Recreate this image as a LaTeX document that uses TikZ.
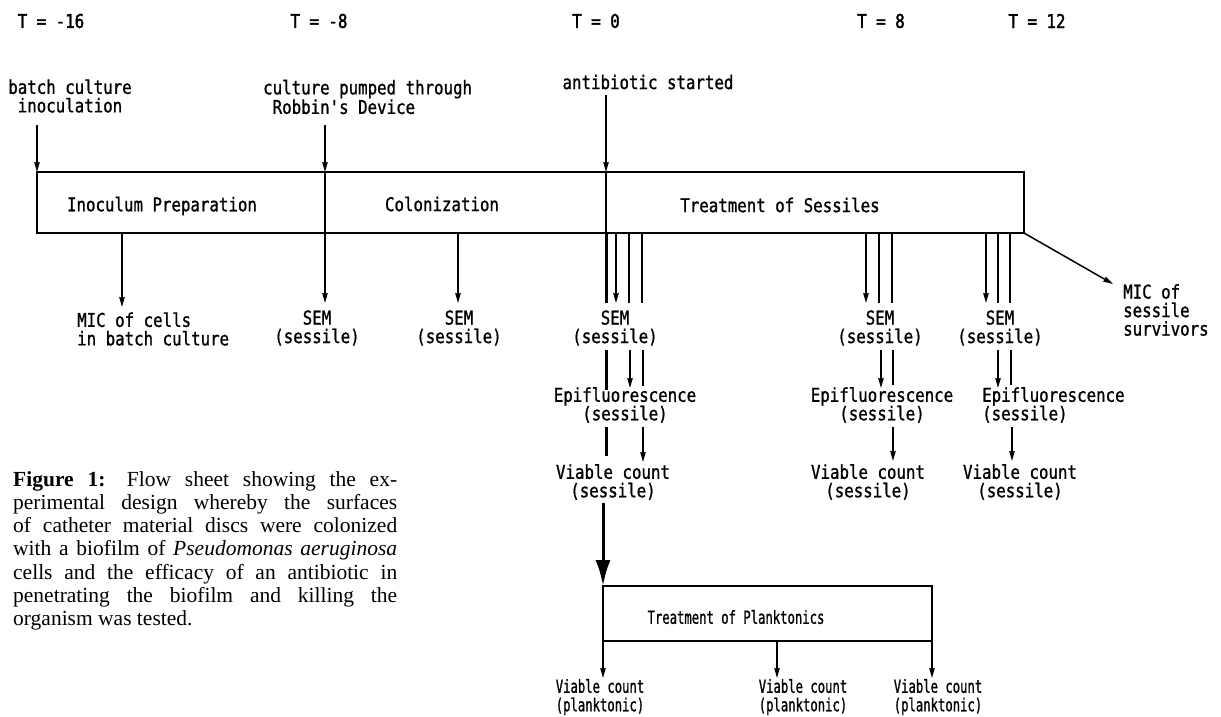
\documentclass[tikz,border=0pt]{standalone}
\usepackage{fontspec}
\setmainfont{Liberation Serif}
\newfontfamily\mono[FakeStretch=0.83,FakeBold=1]{DejaVu Sans Mono}
\newfontfamily\monoT[FakeStretch=0.83,FakeBold=2]{DejaVu Sans Mono}
\newfontfamily\monoS[FakeStretch=0.68,FakeBold=1]{DejaVu Sans Mono}
\usetikzlibrary{arrows.meta}
\begin{document}
\begin{tikzpicture}[x=1pt,y=-1pt,
  lab/.style={font=\mono\fontsize{19}{18.5}\selectfont, inner sep=0pt, align=center},
  labt/.style={font=\monoT\fontsize{19}{18.5}\selectfont, inner sep=0pt},
  labs/.style={font=\monoS\fontsize{18}{18.5}\selectfont, inner sep=0pt, align=center},
  ln/.style={line width=1.5pt},
  arr/.style={ln, -{Stealth[length=10pt,width=5.5pt,inset=1pt]}},
  thk/.style={line width=3pt},
  bigarr/.style={thk, -{Latex[length=26pt,width=15pt]}},
  box/.style={draw, line width=1.6pt, inner sep=0pt, outer sep=0pt}]
\useasboundingbox (0,0) rectangle (1221,717);

% time labels
\node[labt] (tm16) at (51,21) {T = -16};
\node[labt] (tm8) at (319,21) {T = -8};
\node[labt] (t0) at (596,21) {T = 0};
\node[labt] (t8) at (881,21) {T = 8};
\node[labt] (t12) at (1037,21) {T = 12};

% event labels
\node[lab] (batch) at (70,96) {batch culture\\inoculation};
\node[lab, align=left, anchor=west] (robbin) at (263,97) {culture pumped through\\\hphantom{x}Robbin's Device};
\node[lab] (antib) at (648,82) {antibiotic started};

% main box
\node[box, anchor=north west, minimum width=987pt, minimum height=61pt] (main) at (37,172) {};
\node[lab] (inoc) at (162,206) {Inoculum Preparation};
\node[lab] (colon) at (442,204) {Colonization};
\node[lab] (treat) at (780,205) {Treatment of Sessiles};

\coordinate (s16) at (37,125);
\coordinate (s8) at (325,125);
\coordinate (s0) at (606,95);
\coordinate (d8t) at (325,172);
\coordinate (d8b) at (325,233);
\coordinate (d0t) at (606,172);
\coordinate (d0b) at (606,233);

\draw[arr] (s16) -- (main.north west);
\draw[arr] (s8) -- (d8t);
\draw[arr] (s0) -- (d0t);
\draw[ln] (d8t) -- (d8b);
\draw[ln] (d0t) -- (d0b);

% results below box
\node[lab, align=left, anchor=west] (micc) at (77,329) {MIC of cells\\in batch culture};
\node[lab] (sem1) at (317,328) {SEM\\(sessile)};
\node[lab] (sem2) at (459,328) {SEM\\(sessile)};
\node[lab] (sem3) at (615,328) {SEM\\(sessile)};
\node[lab] (epi1) at (625,405) {Epifluorescence\\(sessile)};
\node[lab] (via1) at (613,482) {Viable count\\(sessile)};
\node[lab] (sem4) at (880,328) {SEM\\(sessile)};
\node[lab] (epi2) at (882,405) {Epifluorescence\\(sessile)};
\node[lab] (via2) at (868,482) {Viable count\\(sessile)};
\node[lab] (sem5) at (1000,328) {SEM\\(sessile)};
\node[lab, align=left, anchor=west] (epi3) at (982,405) {Epifluorescence\\(sessile)};
\node[lab] (via3) at (1020,482) {Viable count\\(sessile)};
\node[lab, align=left, anchor=west] (mics) at (1123,310) {MIC of\\sessile\\survivors};

% MIC of cells, SEM at T=-8, SEM colonization
\coordinate (m1a) at (122,233); \coordinate (m1b) at (122,307);
\coordinate (e8) at (325,303);
\coordinate (c1a) at (458,233); \coordinate (c1b) at (458,303);
\draw[arr] (m1a) -- (m1b);
\draw[arr] (d8b) -- (e8);
\draw[arr] (c1a) -- (c1b);

% T = 0 group
\coordinate (z1) at (606,303);
\coordinate (za) at (616,233); \coordinate (zb) at (616,303);
\coordinate (zc) at (629,233); \coordinate (zd) at (629,303);
\coordinate (ze) at (642,233); \coordinate (zf) at (642,303);
\draw[thk] (d0b) -- (z1);
\draw[arr] (za) -- (zb);
\draw[ln] (zc) -- (zd);
\draw[ln] (ze) -- (zf);
\coordinate (y1) at (606,350); \coordinate (y2) at (606,390);
\coordinate (ya) at (630,350); \coordinate (yb) at (630,388);
\coordinate (yc) at (643,350); \coordinate (yd) at (643,386);
\draw[thk] (y1) -- (y2);
\draw[arr] (ya) -- (yb);
\draw[ln] (yc) -- (yd);
\coordinate (x1) at (606,427); \coordinate (x2) at (606,456);
\coordinate (xa) at (643,427); \coordinate (xb) at (643,462);
\draw[thk] (x1) -- (x2);
\draw[arr] (xa) -- (xb);

% T = 8 group
\coordinate (ga) at (866,233); \coordinate (gb) at (866,303);
\coordinate (gc) at (879,233); \coordinate (gd) at (879,303);
\coordinate (ge) at (892,233); \coordinate (gf) at (892,303);
\draw[arr] (ga) -- (gb);
\draw[ln] (gc) -- (gd);
\draw[ln] (ge) -- (gf);
\coordinate (ha) at (881,350); \coordinate (hb) at (881,388);
\coordinate (hc) at (893,350); \coordinate (hd) at (893,385);
\draw[arr] (ha) -- (hb);
\draw[ln] (hc) -- (hd);
\coordinate (ia) at (893,427); \coordinate (ib) at (893,461);
\draw[arr] (ia) -- (ib);

% T = 12 group
\coordinate (ja) at (986,233); \coordinate (jb) at (986,303);
\coordinate (jc) at (998,233); \coordinate (jd) at (998,303);
\coordinate (je) at (1010,233); \coordinate (jf) at (1010,303);
\draw[arr] (ja) -- (jb);
\draw[ln] (jc) -- (jd);
\draw[ln] (je) -- (jf);
\coordinate (ka) at (998,350); \coordinate (kb) at (998,388);
\coordinate (kc) at (1011,350); \coordinate (kd) at (1011,385);
\draw[arr] (ka) -- (kb);
\draw[ln] (kc) -- (kd);
\coordinate (la) at (1012,427); \coordinate (lb) at (1012,461);
\draw[arr] (la) -- (lb);

% MIC of sessile survivors
\coordinate (mtip) at (1113,284);
\draw[arr] (main.south east) -- (mtip);

% planktonics
\node[box, anchor=north west, minimum width=329pt, minimum height=55pt] (plank) at (603,586) {};
\node[labs] (plankt) at (736,617) {Treatment of Planktonics};
\coordinate (v0) at (603,503);
\draw[bigarr] (v0) -- (plank.north west);

\node[labs] (vp1) at (600,697) {Viable count\\(planktonic)};
\node[labs] (vp2) at (803,697) {Viable count\\(planktonic)};
\node[labs] (vp3) at (938,697) {Viable count\\(planktonic)};
\coordinate (p1a) at (603,641); \coordinate (p1b) at (603,678);
\coordinate (p2a) at (777,641); \coordinate (p2b) at (777,678);
\coordinate (p3a) at (932,641); \coordinate (p3b) at (932,678);
\draw[arr] (p1a) -- (p1b);
\draw[arr] (p2a) -- (p2b);
\draw[arr] (p3a) -- (p3b);

% caption
\node[anchor=base west, text width=384pt, inner sep=0pt, align=justify,
      font=\fontsize{21.5}{23.3}\selectfont] (cap) at (13,486)
  {\hyphenpenalty=10000\textbf{Figure 1:}\quad Flow sheet showing the ex-\linebreak
   perimental design whereby the surfaces\linebreak
   of catheter material discs were colonized\linebreak
   with a biofilm of \textit{Pseudomonas aeruginosa}\linebreak
   cells and the efficacy of an antibiotic in\linebreak
   penetrating the biofilm and killing the\linebreak
   organism was tested.};
\end{tikzpicture}
\end{document}
